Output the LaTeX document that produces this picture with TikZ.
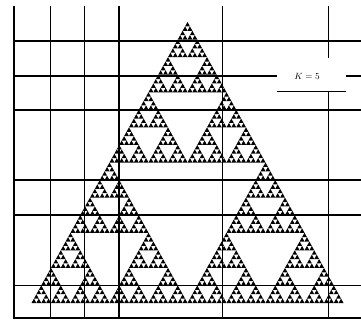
\documentclass[tikz,border=0pt]{standalone}
\newcommand\sierp[5]{%
 \ifnum#5=0\relax
   \fill[sierfill] (#1,#2) -- ++(#3,0) -- ++(-#3/2,-#4) -- cycle;
 \else
   \begingroup
   \pgfmathsetmacro\sw{#3/2}\pgfmathsetmacro\sh{#4/2}%
   \pgfmathsetmacro\sxa{#1+\sw}\pgfmathsetmacro\sxb{#1+\sw/2}\pgfmathsetmacro\syb{#2-\sh}%
   \edef\snext{\noexpand\sierp{#1}{#2}{\sw}{\sh}{\the\numexpr#5-1\relax}%
     \noexpand\sierp{\sxa}{#2}{\sw}{\sh}{\the\numexpr#5-1\relax}%
     \noexpand\sierp{\sxb}{\syb}{\sw}{\sh}{\the\numexpr#5-1\relax}}%
   \snext
   \endgroup
 \fi}
\begin{document}
\begin{tikzpicture}[x=1pt,y=-1pt,
  gridline/.style={draw=black,line width=1.4pt},
  sierfill/.style={fill=black},
  lbl/.style={font=\small,inner sep=1pt}]
\useasboundingbox (0,0) rectangle (361,322);
\fill[white] (0,0) rectangle (361,322);
% Sierpinski triangle
\sierp{31.5}{303}{312}{281}{6}
% vertical grid lines
\foreach \x in {14,50.5,84.5,119,222.5}
  \draw[gridline] (\x,6) -- (\x,318);
\draw[gridline] (328.5,6) -- (328.5,58);
\draw[gridline] (328.5,91.5) -- (328.5,318);
% horizontal grid lines
\foreach \y in {41,110,180,215,285.5}
  \draw[gridline] (14,\y) -- (361,\y);
\draw[gridline] (13.3,318) -- (361,318);
\draw[gridline] (14,76) -- (277,76);
\draw[gridline] (346,76) -- (361,76);
\draw[gridline] (277,91.5) -- (345.5,91.5);
\node[lbl] (k) at (307,76) {$K=5$};
\end{tikzpicture}
\end{document}
